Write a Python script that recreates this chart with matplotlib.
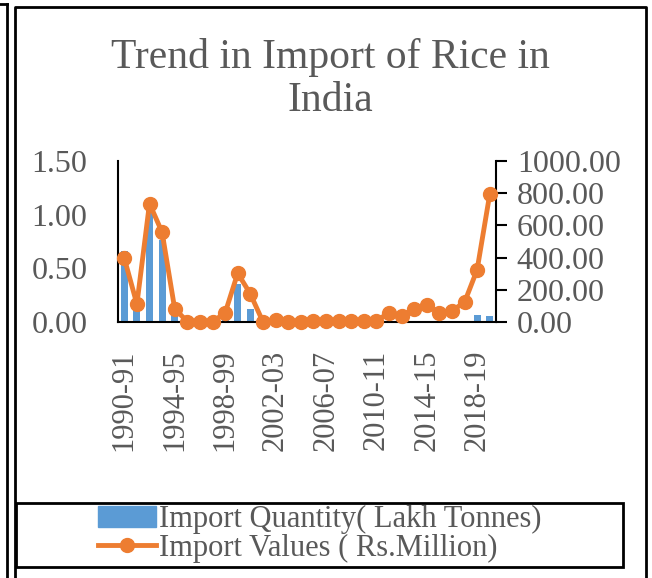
import numpy as np
import matplotlib
matplotlib.use("Agg")
import matplotlib.pyplot as plt
from matplotlib.lines import Line2D
from matplotlib.patches import Rectangle

# ---------------- Data ----------------
years = [f"{y}-{str(y + 1)[-2:]}" for y in range(1990, 2020)]
quantity = [0.66, 0.15, 1.03, 0.76, 0.08, 0.0, 0.0, 0.0, 0.03, 0.35,
            0.12, 0.0, 0.0, 0.0, 0.0, 0.0, 0.0, 0.0, 0.0, 0.0,
            0.0, 0.0, 0.0, 0.005, 0.005, 0.0, 0.0, 0.012, 0.065, 0.053]
values = [396, 111, 736, 557, 82, 3, 2, 2, 56, 303,
          175, 2, 10, 3, 2, 4, 5, 4, 4, 8,
          8, 56, 39, 80, 107, 56, 70, 122, 324, 792]

BLUE = "#5B9BD5"
ORANGE = "#ED7D31"
GREY = "#595959"

plt.rcParams['font.family'] = ['Liberation Serif', 'DejaVu Serif']

fig = plt.figure(figsize=(6.52, 5.78), dpi=100)
W, H = 652, 578

ax = fig.add_axes([118 / W, 1 - 322 / H, (496 - 118) / W, (322 - 161) / H])
x = np.arange(len(years))
ax.bar(x, quantity, width=0.57, color=BLUE, zorder=1)
ax.set_ylim(0, 1.5)
ax.set_yticks([0, 0.5, 1.0, 1.5])
ax.set_yticklabels([f"{v:.2f}" for v in [0, 0.5, 1.0, 1.5]])
ax.set_xlim(-0.5, len(years) - 0.5)
ax.set_xticks(x[::4])
ax.set_xticklabels(years[::4], rotation=90)
ax.tick_params(axis='y', length=0, pad=22, labelsize=23, labelcolor=GREY)
ax.tick_params(axis='x', length=0, pad=20, labelsize=22, labelcolor=GREY)
for s in ['top', 'right']:
    ax.spines[s].set_visible(False)
ax.spines['left'].set_linewidth(1.5)
ax.spines['bottom'].set_linewidth(1.5)

ax2 = ax.twinx()
ax2.plot(x, values, color=ORANGE, lw=3.5, marker='o', ms=10, zorder=3, clip_on=False)
ax2.set_ylim(0, 1000)
ax2.set_yticks(np.arange(0, 1001, 200))
ax2.set_yticklabels([f"{v:.2f}" for v in np.arange(0, 1001, 200)])
ax2.tick_params(axis='y', length=8, width=1.5, pad=7, labelsize=23, labelcolor=GREY)
for s in ['top', 'left', 'bottom']:
    ax2.spines[s].set_visible(False)
ax2.spines['right'].set_linewidth(1.5)

# title
fig.text(330 / W, 1 - 79 / H, "Trend in Import of Rice in\nIndia", ha='center', va='center',
         fontsize=30, color=GREY, linespacing=1.15)

# legend
handles = [Rectangle((0, 0), 1, 1, color=BLUE),
           Line2D([], [], color=ORANGE, lw=3.5, marker='o', ms=10)]
labels = ["Import Quantity( Lakh Tonnes)", "Import Values ( Rs.Million)"]
fig.legend(handles, labels, loc='center', bbox_to_anchor=(320 / W, 1 - 534 / H),
           frameon=False, fontsize=22, labelcolor=GREY, handlelength=1.9,
           handletextpad=0.1, labelspacing=0.0, borderpad=0)
fig.add_artist(Rectangle((16 / W, 1 - 567 / H), (623 - 16) / W, (567 - 503) / H,
                         transform=fig.transFigure, fill=False, ec='black', lw=2))

# frame lines
fig.add_artist(Line2D([6.5 / W, 6.5 / W], [0, 1 - 4 / H], transform=fig.transFigure, color='black', lw=2))
fig.add_artist(Line2D([0, 6.5 / W], [1 - 4 / H, 1 - 4 / H], transform=fig.transFigure, color='black', lw=2))
fig.add_artist(Line2D([15 / W, 15 / W, 646 / W, 646 / W], [0, 1 - 7 / H, 1 - 7 / H, 0],
                      transform=fig.transFigure, color='black', lw=2))

fig.savefig("out.png", dpi=100)
